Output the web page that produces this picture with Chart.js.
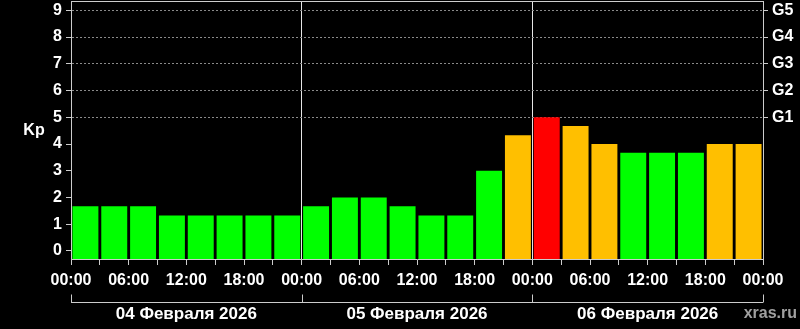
<!DOCTYPE html>
<html>
<head>
<meta charset="utf-8">
<script src="https://cdn.jsdelivr.net/npm/chart.js@4"></script>
<style>
  html, body { margin: 0; padding: 0; background: #000; }
  canvas { display: block; }
</style>
</head>
<body>
<canvas id="kpChart" width="800" height="329"></canvas>
<script>
// Kp index, 3-hour intervals, 04-06 Feb 2026
const hours = [1.5, 4.5, 7.5, 10.5, 13.5, 16.5, 19.5, 22.5,
  25.5, 28.5, 31.5, 34.5, 37.5, 40.5, 43.5, 46.5,
  49.5, 52.5, 55.5, 58.5, 61.5, 64.5, 67.5, 70.5];
const kpValues = [1.67, 1.67, 1.67, 1.33, 1.33, 1.33, 1.33, 1.33,
  1.67, 2, 2, 1.67, 1.33, 1.33, 3, 4.33,
  5, 4.67, 4, 3.67, 3.67, 3.67, 4, 4];
const dayLabels = ["04 Февраля 2026", "05 Февраля 2026", "06 Февраля 2026"];
const kpTicks = [0, 1, 2, 3, 4, 5, 6, 7, 8, 9];
const gTicks = [5, 6, 7, 8, 9];
const gLabels = ["G1", "G2", "G3", "G4", "G5"];

const FONT = "'Liberation Sans', Arial, sans-serif";
const Y_MIN = -0.3;
const Y_MAX = 9.35;

function barColor(v) {
  if (v >= 5) return "#ff0000";
  if (v >= 4) return "#ffbf00";
  return "#00ff00";
}

function pad(n) {
  return (n < 10 ? "0" : "") + n;
}

// keep the plot box where the reference has it
function noPadding(s) {
  s.paddingTop = 0;
  s.paddingBottom = 0;
  s.paddingLeft = 0;
  s.paddingRight = 0;
}

const extras = {
  id: "extras",
  afterDraw(chart) {
    const ctx = chart.ctx;
    const area = chart.chartArea;
    const x = chart.scales.x;

    ctx.save();
    ctx.strokeStyle = "#cccccc";
    ctx.lineWidth = 1;

    // top border of the plot box
    ctx.beginPath();
    ctx.moveTo(area.left, area.top + 0.5);
    ctx.lineTo(area.right, area.top + 0.5);
    ctx.stroke();

    // day bracket under the hour labels
    const by = 302.5;
    ctx.beginPath();
    ctx.moveTo(x.getPixelForValue(0), by);
    ctx.lineTo(x.getPixelForValue(72), by);
    [0, 24, 48, 72].forEach(h => {
      const px = Math.round(x.getPixelForValue(h)) + 0.5;
      ctx.moveTo(px, by);
      ctx.lineTo(px, by - 8);
    });
    ctx.stroke();

    ctx.fillStyle = "#ffffff";
    ctx.textAlign = "center";
    ctx.textBaseline = "middle";
    ctx.font = "bold 17px " + FONT;
    dayLabels.forEach((label, i) => {
      ctx.fillText(label, x.getPixelForValue(i * 24 + 12), 314);
    });

    // axis name
    ctx.font = "bold 16px " + FONT;
    ctx.fillText("Kp", 34, 131);

    ctx.fillStyle = "#a0a0a0";
    ctx.textAlign = "right";
    ctx.fillText("xras.ru", 797, 314);
    ctx.restore();
  }
};

new Chart(document.getElementById("kpChart"), {
  type: "bar",
  data: {
    datasets: [
      {
        data: hours.map((h, i) => ({ x: h, y: kpValues[i] })),
        backgroundColor: kpValues.map(barColor),
        base: Y_MIN,
        barPercentage: 0.9,
        categoryPercentage: 1,
        borderWidth: 0
      }
    ]
  },
  options: {
    responsive: false,
    animation: false,
    layout: { autoPadding: false, padding: { top: 1, left: 0, right: 0, bottom: 0 } },
    plugins: {
      legend: { display: false },
      tooltip: { enabled: false }
    },
    scales: {
      x: {
        type: "linear",
        offset: false,
        min: 0,
        max: 72,
        afterFit(s) { s.height = 70; noPadding(s); },
        afterBuildTicks(s) {
          const t = [];
          for (let h = 0; h <= 72; h += 3) t.push({ value: h });
          s.ticks = t;
        },
        ticks: {
          autoSkip: false,
          maxRotation: 0,
          padding: 6,
          color: "#ffffff",
          font: { size: 16, weight: "bold", family: FONT },
          callback: v => (v % 6 === 0 ? pad(v % 24) + ":00" : "")
        },
        grid: {
          offset: false,
          color: c => (c.tick && (c.tick.value === 24 || c.tick.value === 48) ? "#e6e6e6" : "transparent"),
          tickColor: "#cccccc",
          tickLength: 6
        },
        border: { color: "#cccccc", width: 1 }
      },
      y: {
        position: "left",
        min: Y_MIN,
        max: Y_MAX,
        afterFit(s) { s.width = 71; noPadding(s); },
        afterBuildTicks(s) { s.ticks = kpTicks.map(v => ({ value: v })); },
        ticks: {
          padding: 4,
          color: "#ffffff",
          font: { size: 16, weight: "bold", family: FONT }
        },
        grid: {
          color: c => (c.tick && c.tick.value >= 5 ? "#8a8a8a" : "transparent"),
          tickColor: "#cccccc",
          tickLength: 5
        },
        border: { color: "#cccccc", width: 1, dash: [2, 2] }
      },
      y2: {
        position: "right",
        min: Y_MIN,
        max: Y_MAX,
        afterFit(s) { s.width = 37; noPadding(s); },
        afterBuildTicks(s) { s.ticks = gTicks.map(v => ({ value: v })); },
        ticks: {
          padding: 4,
          color: "#ffffff",
          font: { size: 16, weight: "bold", family: FONT },
          callback: v => gLabels[gTicks.indexOf(v)]
        },
        grid: {
          drawOnChartArea: false,
          tickColor: "#cccccc",
          tickLength: 5
        },
        border: { color: "#cccccc", width: 1 }
      }
    }
  },
  plugins: [extras]
});
</script>
</body>
</html>
